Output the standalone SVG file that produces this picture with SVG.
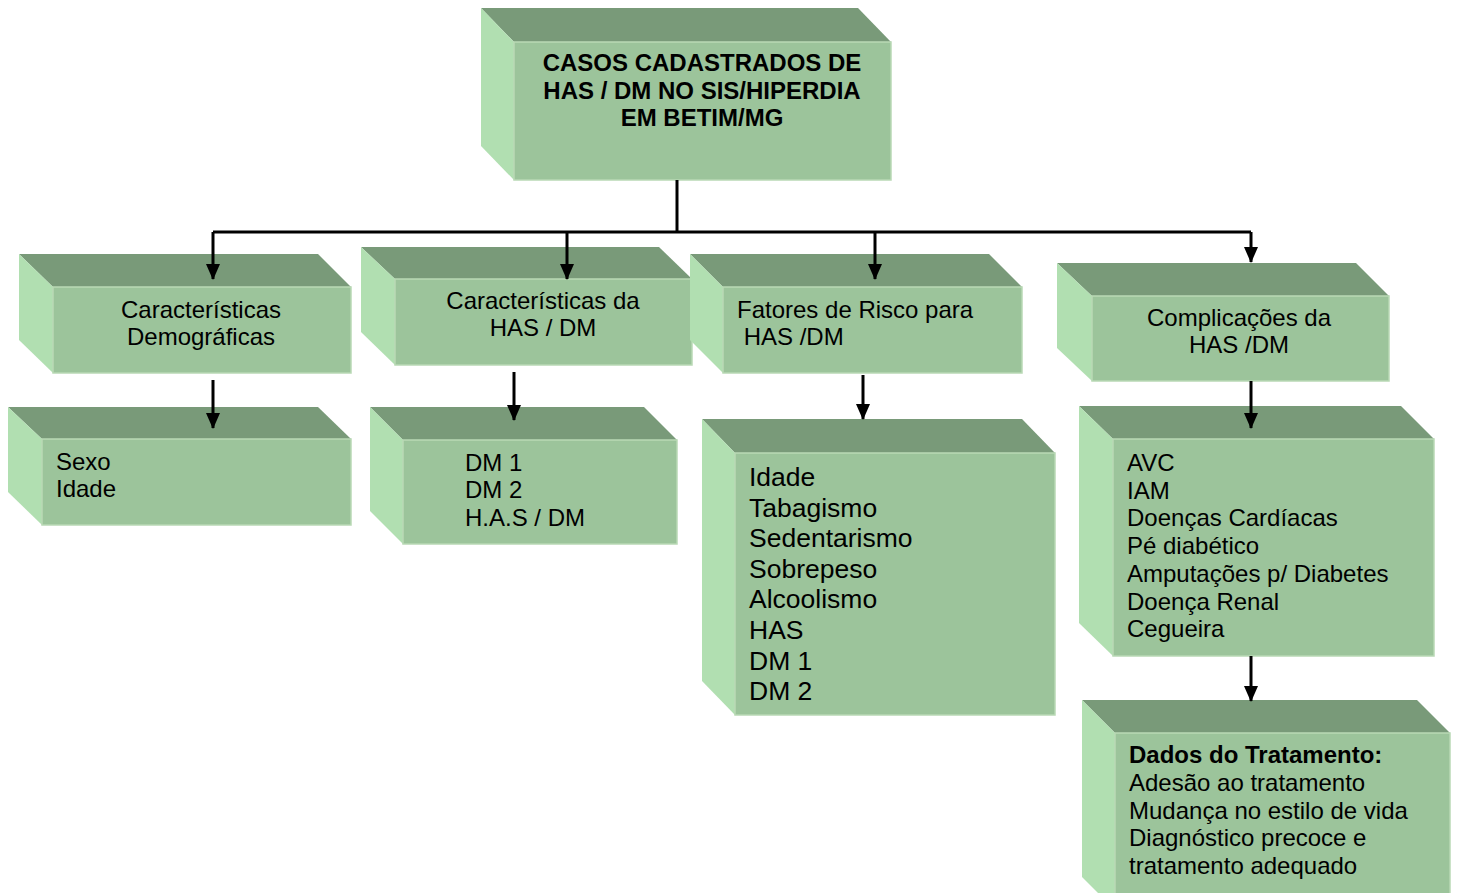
<svg xmlns="http://www.w3.org/2000/svg" width="1458" height="893" viewBox="0 0 1458 893">
<style>
.top{fill:#799a79}
.left{fill:#b1dfb1}
.front{fill:#9cc49b;stroke:#b9d9b5;stroke-width:1.5}
.t{font-family:"Liberation Sans",Arial,sans-serif;font-size:24px;fill:#000}
.b{font-weight:bold}
.big{font-size:26.5px}
.c{text-anchor:middle}
.con{stroke:#000;stroke-width:3;fill:none}
</style>
<defs>
<marker id="arr" markerUnits="userSpaceOnUse" markerWidth="16" markerHeight="14" refX="15" refY="7" orient="auto" viewBox="0 0 16 14">
<path d="M0,0 L16,7 L0,14 Z" fill="#000"/>
</marker>
</defs>

<g id="root">
<polygon class="top" points="481,8 858,8 891,42 514,42"/>
<polygon class="left" points="481,8 514,42 514,180 481,146"/>
<rect class="front" x="514" y="42" width="377" height="138"/>
<text class="t b c" x="702" y="71">CASOS CADASTRADOS DE</text>
<text class="t b c" x="702" y="99">HAS / DM NO SIS/HIPERDIA</text>
<text class="t b c" x="702" y="126">EM BETIM/MG</text>
</g>

<g id="demo">
<polygon class="top" points="19,254 318,254 351,287 53,287"/>
<polygon class="left" points="19,254 53,287 53,373 19,340"/>
<rect class="front" x="53" y="287" width="298" height="86"/>
<text class="t c" x="201" y="318">Características</text>
<text class="t c" x="201" y="345">Demográficas</text>
</g>

<g id="demo-items">
<polygon class="top" points="8,407 318,407 351,439 42,439"/>
<polygon class="left" points="8,407 42,439 42,525 8,492"/>
<rect class="front" x="42" y="439" width="309" height="86"/>
<text class="t" x="56" y="470">Sexo</text>
<text class="t" x="56" y="497">Idade</text>
</g>

<g id="caract">
<polygon class="top" points="361,247 659,247 692,279 395,279"/>
<polygon class="left" points="361,247 395,279 395,365 361,332"/>
<rect class="front" x="395" y="279" width="297" height="86"/>
<text class="t c" x="543" y="309">Características da</text>
<text class="t c" x="543" y="336">HAS / DM</text>
</g>

<g id="caract-items">
<polygon class="top" points="370,407 644,407 677,440 403,440"/>
<polygon class="left" points="370,407 403,440 403,544 370,511"/>
<rect class="front" x="403" y="440" width="274" height="104"/>
<text class="t" x="465" y="471">DM 1</text>
<text class="t" x="465" y="498">DM 2</text>
<text class="t" x="465" y="526">H.A.S / DM</text>
</g>

<g id="fatores">
<polygon class="top" points="690,254 989,254 1022,287 723,287"/>
<polygon class="left" points="690,254 723,287 723,373 690,340"/>
<rect class="front" x="723" y="287" width="299" height="86"/>
<text class="t" x="737" y="318">Fatores de Risco para</text>
<text class="t" x="737" y="345" xml:space="preserve"> HAS /DM</text>
</g>

<g id="fatores-items">
<polygon class="top" points="702,419 1022,419 1055,453 735,453"/>
<polygon class="left" points="702,419 735,453 735,715 702,681"/>
<rect class="front" x="735" y="453" width="320" height="262"/>
<text class="t big" x="749" y="486">Idade</text>
<text class="t big" x="749" y="516.6">Tabagismo</text>
<text class="t big" x="749" y="547.2">Sedentarismo</text>
<text class="t big" x="749" y="577.8">Sobrepeso</text>
<text class="t big" x="749" y="608.4">Alcoolismo</text>
<text class="t big" x="749" y="639">HAS</text>
<text class="t big" x="749" y="669.6">DM 1</text>
<text class="t big" x="749" y="700.2">DM 2</text>
</g>

<g id="complic">
<polygon class="top" points="1057,263 1356,263 1389,296 1092,296"/>
<polygon class="left" points="1057,263 1092,296 1092,381 1057,348"/>
<rect class="front" x="1092" y="296" width="297" height="85"/>
<text class="t c" x="1239" y="326">Complicações da</text>
<text class="t c" x="1239" y="353">HAS /DM</text>
</g>

<g id="complic-items">
<polygon class="top" points="1079,406 1401,406 1434,439 1113,439"/>
<polygon class="left" points="1079,406 1113,439 1113,656 1079,623"/>
<rect class="front" x="1113" y="439" width="321" height="217"/>
<text class="t" x="1127" y="471">AVC</text>
<text class="t" x="1127" y="498.7">IAM</text>
<text class="t" x="1127" y="526.4">Doenças Cardíacas</text>
<text class="t" x="1127" y="554.1">Pé diabético</text>
<text class="t" x="1127" y="581.8">Amputações p/ Diabetes</text>
<text class="t" x="1127" y="609.5">Doença Renal</text>
<text class="t" x="1127" y="637.2">Cegueira</text>
</g>

<g id="tratamento">
<polygon class="top" points="1082,700 1417,700 1450,733 1115,733"/>
<polygon class="left" points="1082,700 1115,733 1115,910 1082,877"/>
<rect class="front" x="1115" y="733" width="335" height="177"/>
<text class="t b" x="1129" y="763">Dados do Tratamento:</text>
<text class="t" x="1129" y="791">Adesão ao tratamento</text>
<text class="t" x="1129" y="818.5">Mudança no estilo de vida</text>
<text class="t" x="1129" y="846">Diagnóstico precoce e</text>
<text class="t" x="1129" y="874">tratamento adequado</text>
</g>

<g id="connectors">
<path class="con" d="M677,180 V232"/>
<path class="con" d="M213,232 H1251"/>
<path class="con" d="M213,232 V279" marker-end="url(#arr)"/>
<path class="con" d="M567,232 V279" marker-end="url(#arr)"/>
<path class="con" d="M875,232 V279" marker-end="url(#arr)"/>
<path class="con" d="M1251,232 V262" marker-end="url(#arr)"/>
<path class="con" d="M213,380 V428" marker-end="url(#arr)"/>
<path class="con" d="M514,372 V420" marker-end="url(#arr)"/>
<path class="con" d="M863,375 V419" marker-end="url(#arr)"/>
<path class="con" d="M1251,381 V428" marker-end="url(#arr)"/>
<path class="con" d="M1251,656 V701" marker-end="url(#arr)"/>
</g>
</svg>
